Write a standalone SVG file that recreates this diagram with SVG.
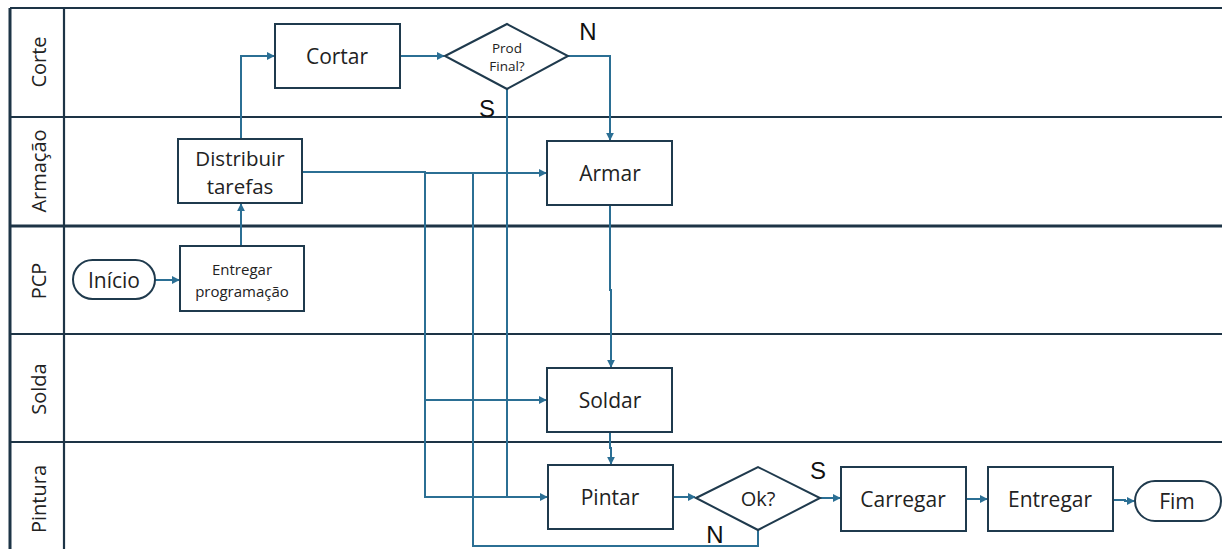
<svg xmlns="http://www.w3.org/2000/svg" width="1222" height="549" viewBox="0 0 1222 549">
<defs>
<marker id="ah" viewBox="0 0 10 10" refX="9" refY="5" markerWidth="8" markerHeight="8" markerUnits="userSpaceOnUse" orient="auto">
<path d="M0,0 L10,5 L0,10 z" fill="#2b6f94"/>
</marker>
<style>
.lane{stroke:#1d3446;stroke-width:2.2;fill:none}
.box{fill:#fff;stroke:#1f3a4d;stroke-width:2}
.t{font-family:"Open Sans","Liberation Sans",sans-serif;fill:#222;text-anchor:middle;dominant-baseline:central}
.ln{font-family:"Open Sans","Liberation Sans",sans-serif;fill:#222;text-anchor:middle;dominant-baseline:central;font-size:20px}
.c{fill:none;stroke:#2b6f94;stroke-width:2}
.lbl{font-family:"Liberation Sans",Arial,sans-serif;fill:#111;font-size:24px;text-anchor:middle;dominant-baseline:central}
</style>
</defs>
<rect width="1222" height="549" fill="#fff"/>
<g id="lanes">
<line class="lane" x1="10" y1="8" x2="1222" y2="8"/>
<line class="lane" x1="10" y1="117" x2="1222" y2="117"/>
<line class="lane" x1="10" y1="226" x2="1222" y2="226" style="stroke-width:3"/>
<line class="lane" x1="10" y1="334" x2="1222" y2="334"/>
<line class="lane" x1="10" y1="442" x2="1222" y2="442"/>
<line class="lane" x1="10" y1="8" x2="10" y2="549" style="stroke-width:3"/>
<line class="lane" x1="64" y1="8" x2="64" y2="549"/>
<text class="ln" transform="translate(38,62) rotate(-90)">Corte</text>
<text class="ln" transform="translate(38,171) rotate(-90)">Armação</text>
<text class="ln" transform="translate(38,281) rotate(-90)">PCP</text>
<text class="ln" transform="translate(38,389) rotate(-90)">Solda</text>
<text class="ln" transform="translate(38,499) rotate(-90)">Pintura</text>
</g>
<g id="connectors">
<path class="c" d="M155,280 H179" marker-end="url(#ah)"/>
<path class="c" d="M241,246 V204" marker-end="url(#ah)"/>
<path class="c" d="M241,139 V56 H274" marker-end="url(#ah)"/>
<path class="c" d="M400,56 H444" marker-end="url(#ah)"/>
<path class="c" d="M568,56 H610 V140" marker-end="url(#ah)"/>
<path class="c" d="M507,89 V497 H547" marker-end="url(#ah)"/>
<path class="c" d="M302,172 H425 V497 H507"/>
<path class="c" d="M425,400 H546" marker-end="url(#ah)"/>
<path class="c" d="M425,173 H546" marker-end="url(#ah)"/>
<path class="c" d="M758,530 V546 H473 V173"/>
<path class="c" d="M610,205 V290 H611 V367" marker-end="url(#ah)"/>
<path class="c" d="M610,432 V448 H611 V464" marker-end="url(#ah)"/>
<path class="c" d="M673,497 H695" marker-end="url(#ah)"/>
<path class="c" d="M820,498 H840" marker-end="url(#ah)"/>
<path class="c" d="M966,499 H987" marker-end="url(#ah)"/>
<path class="c" d="M1113,500 H1125 V501 H1134" marker-end="url(#ah)"/>
</g>
<g id="cortar"><rect class="box" x="275" y="24" width="125" height="64"/><text class="t" x="337" y="56" font-size="21">Cortar</text></g>
<g id="prodfinal"><polygon class="box" points="445,56 507,24 568,56 507,89"/><text class="t" x="507" y="48" font-size="13.5">Prod</text><text class="t" x="507" y="66" font-size="13.5">Final?</text></g>
<g id="distribuir"><rect class="box" x="178" y="139" width="124" height="64"/><text class="t" x="240" y="158" font-size="20.5">Distribuir</text><text class="t" x="240" y="186" font-size="20.5">tarefas</text></g>
<g id="armar"><rect class="box" x="547" y="141" width="125" height="64"/><text class="t" x="610" y="173" font-size="21">Armar</text></g>
<g id="inicio"><rect class="box" x="73" y="260" width="82" height="39" rx="19.5"/><text class="t" x="114" y="280" font-size="21">Início</text></g>
<g id="entregarprog"><rect class="box" x="180" y="246" width="124" height="65"/><text class="t" x="242" y="269" font-size="15">Entregar</text><text class="t" x="242" y="291" font-size="15">programação</text></g>
<g id="soldar"><rect class="box" x="547" y="368" width="125" height="64"/><text class="t" x="610" y="400" font-size="21">Soldar</text></g>
<g id="pintar"><rect class="box" x="548" y="465" width="125" height="64"/><text class="t" x="610" y="497" font-size="21">Pintar</text></g>
<g id="ok"><polygon class="box" points="696,498 758,467 820,498 758,530"/><text class="t" x="758" y="498" font-size="20">Ok?</text></g>
<g id="carregar"><rect class="box" x="841" y="467" width="125" height="64"/><text class="t" x="903" y="499" font-size="21">Carregar</text></g>
<g id="entregar"><rect class="box" x="988" y="467" width="125" height="64"/><text class="t" x="1050" y="499" font-size="21">Entregar</text></g>
<g id="fim"><rect class="box" x="1135" y="481" width="86" height="40" rx="20"/><text class="t" x="1177" y="501" font-size="21">Fim</text></g>
<g id="labels">
<text class="lbl" x="588" y="31">N</text>
<text class="lbl" x="487" y="108">S</text>
<text class="lbl" x="818" y="470">S</text>
<text class="lbl" x="715" y="534">N</text>
</g>
</svg>
